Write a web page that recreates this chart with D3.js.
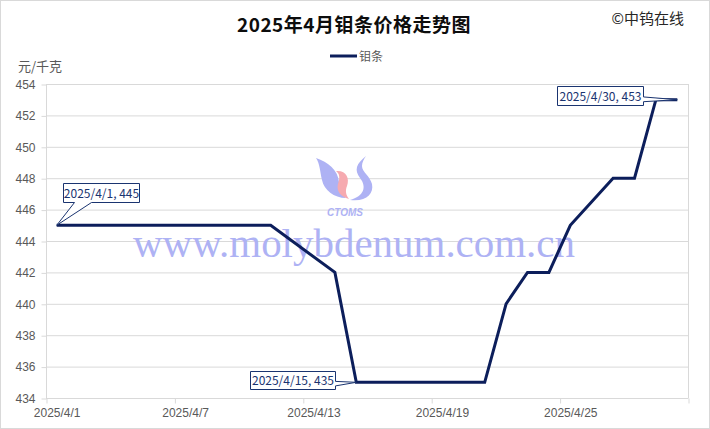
<!DOCTYPE html>
<html lang="zh">
<head>
<meta charset="UTF-8" />
<title>2025年4月钼条价格走势图</title>
<script src="https://d3js.org/d3.v7.min.js"></script>
<style>
    body { margin: 0; background: #fff; }
    svg { display: block; font-family: "Noto Sans CJK SC", "Noto Sans", sans-serif; }
    .grid line { stroke: #d9d9d9; stroke-width: 1; }
    .axis text { fill: #595959; font-size: 12px; }
    .axis path, .axis line { stroke: #d9d9d9; }
    .price-line { fill: none; stroke: #0c1e5b; stroke-width: 3; stroke-linejoin: miter; }
    .callout path { fill: #fff; stroke: #1a3470; stroke-width: 1; }
    .callout text { fill: #1a3470; font-size: 12px; }
</style>
</head>
<body>
<svg width="710" height="429"></svg>
<script>
    // 钼条价格 (元/千克), 工作日数据
    const dates = ["2025-04-01", "2025-04-02", "2025-04-03", "2025-04-07", "2025-04-08",
        "2025-04-09", "2025-04-10", "2025-04-11", "2025-04-14", "2025-04-15", "2025-04-16",
        "2025-04-17", "2025-04-18", "2025-04-21", "2025-04-22", "2025-04-23", "2025-04-24",
        "2025-04-25", "2025-04-27", "2025-04-28", "2025-04-29", "2025-04-30"];
    const prices = [445, 445, 445, 445, 445, 445, 445, 445, 442, 435, 435,
        435, 435, 435, 440, 442, 442, 445, 448, 448, 453, 453];
    const xTickDates = ["2025-04-01", "2025-04-07", "2025-04-13", "2025-04-19", "2025-04-25", "2025-05-01"];
    const yTicks = [434, 436, 438, 440, 442, 444, 446, 448, 450, 452, 454];
    const labelledDates = ["2025-04-01", "2025-04-15", "2025-04-30"];

    const parse = d3.timeParse("%Y-%m-%d");
    const fmt = d3.timeFormat("%Y/%-m/%-d");
    const data = dates.map((d, i) => ({ date: parse(d), value: prices[i] }));

    const W = 710, H = 429;
    const plot = { left: 46, right: 688, top: 84, bottom: 398 };

    const svg = d3.select("svg");
    svg.append("rect").attr("x", 0.5).attr("y", 0.5).attr("width", W - 1).attr("height", H - 1)
        .attr("fill", "#fff").attr("stroke", "#d9d9d9");

    const x = d3.scaleTime()
        .domain([parse("2025-04-01"), parse("2025-05-01")])
        .range([plot.left, plot.right]);
    const y = d3.scaleLinear().domain([434, 454]).range([plot.bottom, plot.top]);
    // points sit in the middle of each day (category between tick marks)
    const mid = d => d3.timeHour.offset(d, 12);

    // gridlines
    svg.append("g").attr("class", "grid")
        .selectAll("line").data(yTicks).join("line")
        .attr("x1", plot.left).attr("x2", plot.right)
        .attr("y1", d => y(d) + 0.5).attr("y2", d => y(d) + 0.5);
    svg.append("line").attr("x1", plot.right + 0.5).attr("x2", plot.right + 0.5)
        .attr("y1", plot.top).attr("y2", plot.bottom).attr("stroke", "#d9d9d9");

    // y axis
    const yAxis = svg.append("g").attr("class", "axis")
        .attr("transform", `translate(${plot.left + 0.5},0.5)`)
        .call(d3.axisLeft(y).tickValues(yTicks).tickSize(5).tickPadding(6));
    yAxis.select(".domain").attr("d", `M0,${plot.top}V${plot.bottom}`);

    // x axis
    const xAxis = svg.append("g").attr("class", "axis")
        .attr("transform", `translate(0.5,${plot.bottom + 0.5})`)
        .call(d3.axisBottom(x).tickValues(xTickDates.map(parse)).tickSize(5).tickFormat(""));
    xAxis.select(".domain").attr("d", `M${plot.left},0H${plot.right}`);
    xAxis.selectAll(".label").data(xTickDates.slice(0, -1).map(parse)).join("text")
        .attr("class", "label")
        .attr("x", d => x(mid(d)))
        .attr("y", 18)
        .attr("text-anchor", "middle")
        .text(d => fmt(d));

    // watermark
    const wm = svg.append("g").attr("class", "watermark");
    wm.append("text")
        .attr("x", 133).attr("y", 257)
        .attr("textLength", 442).attr("lengthAdjust", "spacingAndGlyphs")
        .attr("font-family", "'Liberation Serif', 'DejaVu Serif', serif")
        .attr("font-size", 40).attr("fill", "#aeb2f4")
        .text("www.molybdenum.com.cn");
    const logo = wm.append("g").attr("transform", "translate(314,156)");
    logo.append("path")
        .attr("d", "M2,2 C14,6 24,14 25,26 C26,34 28,39 32,42 C20,42 10,34 8,24 C6,16 6,8 2,2 Z")
        .attr("fill", "#aeb2f4");
    logo.append("path")
        .attr("d", "M22,15 C32,14 36,22 33,30 C31,35 32,39 35,43 C27,41 22,35 24,28 C26,22 26,18 22,15 Z")
        .attr("fill", "#f6aab0");
    logo.append("path")
        .attr("d", "M52,0 C42,8 40,14 46,22 C53,31 50,40 36,44 C52,46 60,38 58,28 C56,20 48,16 48,10 C48,6 50,3 52,0 Z")
        .attr("fill", "#aeb2f4");
    logo.append("text")
        .attr("x", 31).attr("y", 60).attr("text-anchor", "middle")
        .attr("font-family", "'Liberation Sans', Arial, sans-serif")
        .attr("font-size", 10).attr("font-weight", "bold").attr("font-style", "italic")
        .attr("fill", "#aeb2f4").text("CTOMS");

    // price line
    const line = d3.line().x(d => x(mid(d.date))).y(d => y(d.value));
    svg.append("path").datum(data).attr("class", "price-line").attr("d", line);

    // callouts
    const calloutSpec = [
        { side: "bottom", dx: 6, dy: -42, w: 76, h: 19 },
        { side: "right", dx: -106, dy: -11, w: 85, h: 18 },
        { side: "right", dx: -120, dy: -14, w: 86, h: 19 }
    ];
    labelledDates.forEach((ds, i) => {
        const d = data.find(p => fmt(p.date) === fmt(parse(ds)));
        const px = x(mid(d.date)), py = y(d.value);
        const s = calloutSpec[i];
        const l = Math.round(px + s.dx) + 0.5, t = Math.round(py + s.dy) + 0.5;
        const r = l + s.w, b = t + s.h;
        let p;
        if (s.side === "bottom") {
            p = `M${l},${t}H${r}V${b}H${l + 28}L${px},${py}L${l + 11},${b}H${l}Z`;
        } else {
            p = `M${l},${t}H${r}V${t + s.h * 0.55}L${px},${py}L${r},${t + s.h * 0.8}V${b}H${l}Z`;
        }
        const g = svg.append("g").attr("class", "callout");
        g.append("path").attr("d", p);
        g.append("text").attr("x", l + s.w / 2).attr("y", t + s.h / 2 + 4.5)
            .attr("text-anchor", "middle").text(`${fmt(d.date)}, ${d.value}`);
    });

    // title, source, legend, unit
    svg.append("text").attr("x", 354).attr("y", 32).attr("text-anchor", "middle")
        .attr("font-size", 19).attr("font-weight", "bold").attr("fill", "#0d0d0d")
        .attr("letter-spacing", 0.5).text("2025年4月钼条价格走势图");
    svg.append("text").attr("x", 684).attr("y", 24).attr("text-anchor", "end")
        .attr("font-size", 15).attr("fill", "#262626").text("©中钨在线");
    svg.append("line").attr("x1", 330).attr("x2", 357).attr("y1", 56).attr("y2", 56)
        .attr("stroke", "#0c1e5b").attr("stroke-width", 3);
    svg.append("text").attr("x", 359).attr("y", 60.5)
        .attr("font-size", 12).attr("fill", "#595959").text("钼条");
    svg.append("text").attr("x", 18).attr("y", 71)
        .attr("font-size", 13).attr("fill", "#595959").text("元/千克");
</script>
</body>
</html>
